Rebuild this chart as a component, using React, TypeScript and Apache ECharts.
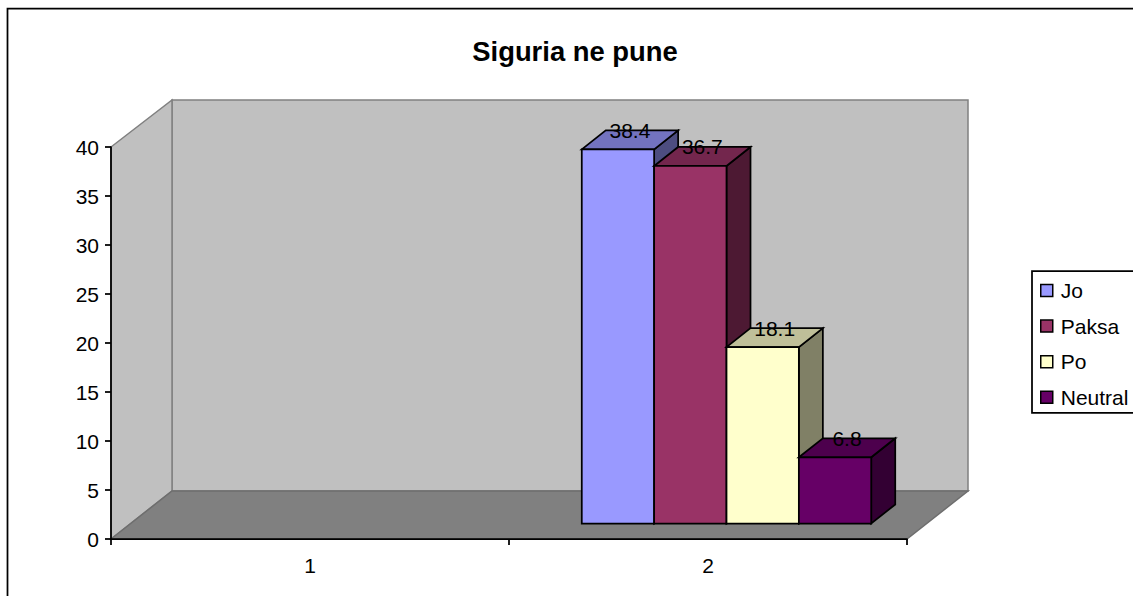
import React, { useEffect, useRef } from "react";
import * as echarts from "echarts";

const categories = ["1", "2"];
const seriesNames = ["Jo", "Paksa", "Po", "Neutral"];
const joValues = [null, 38.4];
const paksaValues = [null, 36.7];
const poValues = [null, 18.1];
const neutralValues = [null, 6.8];
const seriesValues = [joValues, paksaValues, poValues, neutralValues];
const frontColors = ["#9999FF", "#993366", "#FFFFCC", "#660066"];
const topColors = ["#7373BF", "#73264D", "#BFBF99", "#4D004D"];
const sideColors = ["#4D4D80", "#4D1933", "#808066", "#330033"];
const yTicks = { min: 0, max: 40, interval: 5 };

const FONT = '"Liberation Sans", Arial, sans-serif';
const WALL_DX = 61;
const WALL_DY_BOTTOM = 48;
const WALL_DY_TOP = 47;
const BAR_DX = 24;
const BAR_DY = 19;
const BAR_OFFSET_X = 18.5;
const BAR_OFFSET_Y = 15.5;
const BAR_SCALE = 0.994;

export default function App() {
  const ref = useRef<HTMLDivElement>(null);
  useEffect(() => {
    const chart = echarts.init(ref.current!, null, { renderer: "svg" });

    const wallSeries = {
      type: "custom",
      name: "walls",
      z: 1,
      silent: true,
      data: [[categories[0], 0]],
      encode: { x: 0, y: 1 },
      renderItem: (_p: any, api: any) => {
        const o = api.coord([0, yTicks.min]);
        const t = api.coord([0, yTicks.max]);
        const band = api.size([1, 0])[0];
        const x0 = o[0] - band / 2;
        const x1 = x0 + band * categories.length;
        const y0 = o[1];
        const y1 = t[1];
        const gray = { stroke: "#808080", lineWidth: 1.5 };
        return {
          type: "group",
          children: [
            {
              type: "polygon",
              shape: {
                points: [
                  [x0 + WALL_DX, y1 - WALL_DY_TOP],
                  [x1 + WALL_DX, y1 - WALL_DY_TOP],
                  [x1 + WALL_DX, y0 - WALL_DY_BOTTOM],
                  [x0 + WALL_DX, y0 - WALL_DY_BOTTOM],
                ],
              },
              style: { fill: "#C0C0C0", ...gray },
            },
            {
              type: "polygon",
              shape: {
                points: [
                  [x0, y1],
                  [x0 + WALL_DX, y1 - WALL_DY_TOP],
                  [x0 + WALL_DX, y0 - WALL_DY_BOTTOM],
                  [x0, y0],
                ],
              },
              style: { fill: "#C0C0C0", ...gray },
            },
            {
              type: "polygon",
              shape: {
                points: [
                  [x0, y0],
                  [x0 + WALL_DX, y0 - WALL_DY_BOTTOM],
                  [x1 + WALL_DX, y0 - WALL_DY_BOTTOM],
                  [x1, y0],
                ],
              },
              style: { fill: "#808080", stroke: "#6e6e6e", lineWidth: 1.5 },
            },
          ],
        };
      },
    };

    const barSeries = seriesNames.map((name, i) => ({
      type: "custom",
      name,
      z: 6 + i,
      silent: true,
      itemStyle: { color: frontColors[i] },
      data: categories.map((c, k) => [c, seriesValues[i][k]]),
      encode: { x: 0, y: 1 },
      renderItem: (_p: any, api: any) => {
        const v = api.value(1);
        if (v === null || v === undefined || isNaN(v)) return null;
        const cat = api.value(0);
        const base = api.coord([cat, 0]);
        const top = api.coord([cat, v]);
        const band = api.size([1, 0])[0];
        const w = band / 5.5;
        const left = base[0] + BAR_OFFSET_X - 2 * w + i * w;
        const right = left + w;
        const by = base[1] - BAR_OFFSET_Y;
        const ty = by - (base[1] - top[1]) * BAR_SCALE;
        const line = { stroke: "#000", lineWidth: 1.75, lineJoin: "miter" };
        return {
          type: "group",
          children: [
            {
              type: "polygon",
              shape: {
                points: [
                  [right, ty],
                  [right + BAR_DX, ty - BAR_DY],
                  [right + BAR_DX, by - BAR_DY],
                  [right, by],
                ],
              },
              style: { fill: sideColors[i], ...line },
            },
            {
              type: "polygon",
              shape: {
                points: [
                  [left, ty],
                  [left + BAR_DX, ty - BAR_DY],
                  [right + BAR_DX, ty - BAR_DY],
                  [right, ty],
                ],
              },
              style: { fill: topColors[i], ...line },
            },
            {
              type: "polygon",
              shape: {
                points: [
                  [left, ty],
                  [right, ty],
                  [right, by],
                  [left, by],
                ],
              },
              style: { fill: frontColors[i], ...line },
            },
            {
              type: "text",
              z2: 100,
              style: {
                text: String(v),
                x: (left + right) / 2 + BAR_DX / 2,
                y: ty - 19,
                align: "center",
                verticalAlign: "middle",
                fill: "#000",
                font: `21px ${FONT}`,
              },
            },
          ],
        };
      },
    }));

    chart.setOption({
      animation: false,
      backgroundColor: "#fff",
      title: {
        text: "Siguria ne pune",
        left: 570,
        top: 33,
        textAlign: "center",
        textStyle: { fontFamily: FONT, fontSize: 27.4, fontWeight: "bold", color: "#000" },
      },
      legend: {
        data: seriesNames,
        orient: "vertical",
        left: 1032,
        top: 271,
        padding: [8, 20, 4, 8],
        itemWidth: 12,
        itemHeight: 12,
        itemGap: 12.6,
        icon: "rect",
        borderColor: "#000",
        borderWidth: 1.75,
        backgroundColor: "#fff",
        itemStyle: { borderColor: "#000", borderWidth: 1.5 },
        textStyle: { fontFamily: FONT, fontSize: 21, color: "#000", padding: [0, 0, 0, 3], height: 23, lineHeight: 23 },
      },
      grid: { left: 111, right: 226, top: 147, bottom: 57, containLabel: false },
      xAxis: {
        type: "category",
        data: categories,
        z: 5,
        boundaryGap: true,
        axisLine: { lineStyle: { color: "#000", width: 1.75 } },
        axisTick: { show: true, alignWithLabel: false, length: 6, lineStyle: { color: "#000", width: 1.75 } },
        axisLabel: { color: "#000", fontFamily: FONT, fontSize: 21, margin: 16 },
        splitLine: { show: false },
      },
      yAxis: {
        type: "value",
        min: yTicks.min,
        max: yTicks.max,
        interval: yTicks.interval,
        z: 5,
        axisLine: { show: true, lineStyle: { color: "#000", width: 1.75 } },
        axisTick: { show: true, length: 6, lineStyle: { color: "#000", width: 1.75 } },
        axisLabel: { color: "#000", fontFamily: FONT, fontSize: 21, margin: 12, padding: [2, 0, 0, 0] },
        splitLine: { show: false },
      },
      graphic: [
        {
          type: "rect",
          silent: true,
          z: -1,
          shape: { x: 7.5, y: 8.5, width: 1300, height: 800 },
          style: { fill: "none", stroke: "#000", lineWidth: 1.75 },
        },
      ],
      series: [wallSeries, ...barSeries],
    });
    return () => chart.dispose();
  }, []);
  return (
    <div
      ref={ref}
      style={{ position: "fixed", left: 0, top: 0, width: 1133, height: 596, background: "#fff" }}
    />
  );
}
